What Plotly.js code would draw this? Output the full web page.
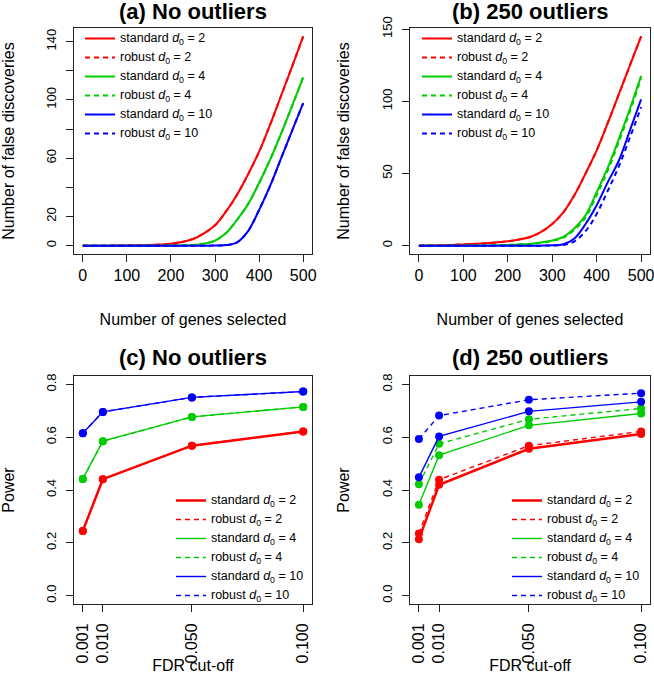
<!DOCTYPE html>
<html>
<head>
<meta charset="utf-8">
<script src="https://cdn.plot.ly/plotly-3.0.1.min.js"></script>
<style>
    html, body { margin: 0; padding: 0; background: #fff; }
    #plot-div { width: 654px; height: 674px; }
</style>
</head>
<body>
<div id="plot-div"></div>
<script>
// number of genes selected (top panels)
const genesX = [0, 50, 100, 150, 200, 225, 250, 275, 300, 325, 350, 375, 400, 425, 450, 475, 500];

// (a) no outliers - robust is the same as standard
const aStd2 = [0, 0, 0.2, 0.5, 1.4, 2.5, 4.6, 8.5, 14, 23.5, 35, 49, 64.5, 83, 103, 123, 143.5];
const aRob2 = [0, 0, 0.2, 0.5, 1.4, 2.5, 4.6, 8.5, 14, 23.5, 35, 49, 64.5, 83, 103, 123, 143.5];
const aStd4 = [0, 0, 0, 0, 0.1, 0.2, 0.5, 1.4, 3.5, 8.7, 17.8, 28.5, 43, 59, 77, 96, 115.5];
const aRob4 = [0, 0, 0, 0, 0.1, 0.2, 0.5, 1.4, 3.5, 8.7, 17.8, 28.5, 43, 59, 77, 96, 115.5];
const aStd10 = [0, 0, 0, 0, 0, 0, 0, 0, 0.1, 0.4, 2.3, 10, 24.5, 41, 60, 79, 97.8];
const aRob10 = [0, 0, 0, 0, 0, 0, 0, 0, 0.1, 0.4, 2.3, 10, 24.5, 41, 60, 79, 97.8];

// (b) 250 outliers
const bStd2 = [0, 0.3, 0.8, 1.6, 3, 4.2, 6, 9.5, 15, 23, 35, 50, 66, 85, 105, 125, 145];
const bRob2 = [0, 0.3, 0.8, 1.6, 3, 4.2, 6, 9.5, 15, 23, 35, 50, 66, 85, 105, 125, 145];
const bStd4 = [0, 0, 0, 0.1, 0.5, 0.8, 1.2, 2.2, 3.5, 6, 12, 21, 37, 54, 74, 95, 117.6];
const bRob4 = [0, 0, 0, 0.1, 0.5, 0.8, 1.2, 2, 3.2, 5.5, 11, 19.5, 35, 52, 72, 93, 116];
const bStd10 = [0, 0, 0, 0, 0, 0, 0, 0, 0.2, 1, 5, 15, 28, 44, 59, 80, 101.4];
const bRob10 = [0, 0, 0, 0, 0, 0, 0, 0, 0.1, 0.5, 3, 10, 22, 38, 55, 75, 96];

// FDR cut-offs (bottom panels)
const fdrX = [0.001, 0.01, 0.05, 0.1];
const fdrLabels = ["0.001", "0.010", "0.050", "0.100"];

// (c) no outliers
const cStd2 = [0.245, 0.441, 0.568, 0.622];
const cRob2 = [0.245, 0.441, 0.568, 0.622];
const cStd4 = [0.442, 0.585, 0.677, 0.715];
const cRob4 = [0.442, 0.585, 0.677, 0.715];
const cStd10 = [0.615, 0.696, 0.751, 0.773];
const cRob10 = [0.615, 0.696, 0.751, 0.773];

// (d) 250 outliers
const dStd2 = [0.213, 0.420, 0.556, 0.612];
const dRob2 = [0.235, 0.439, 0.568, 0.622];
const dStd4 = [0.344, 0.532, 0.645, 0.690];
const dRob4 = [0.422, 0.575, 0.668, 0.709];
const dStd10 = [0.448, 0.603, 0.698, 0.734];
const dRob10 = [0.593, 0.682, 0.742, 0.767];

// tick labels
const genesTicks = [0, 100, 200, 300, 400, 500];
const genesTickText = ["0", "100", "200", "300", "400", "500"];
const aYTicks = [0, 20, 40, 60, 80, 100, 120, 140];
const aYTickText = ["0", "20", "", "60", "", "100", "", "140"];
const bYTicks = [0, 50, 100, 150];
const bYTickText = ["0", "50", "100", "150"];
const powerTicks = [0, 0.2, 0.4, 0.6, 0.8];
const powerTickText = ["0.0", "0.2", "0.4", "0.6", "0.8"];

const seriesNames = [
    "standard <i>d</i><sub>0</sub> = 2",
    "robust <i>d</i><sub>0</sub> = 2",
    "standard <i>d</i><sub>0</sub> = 4",
    "robust <i>d</i><sub>0</sub> = 4",
    "standard <i>d</i><sub>0</sub> = 10",
    "robust <i>d</i><sub>0</sub> = 10",
];
const colors = ["#ff0000", "#ff0000", "#00cd00", "#00cd00", "#0000ff", "#0000ff"];
const dashes = ["solid", "5px,4px", "solid", "5px,4px", "solid", "5px,4px"];
const powerWidths = [2.5, 1.4, 1.4, 1.4, 1.4, 1.4];

const FONT = "Liberation Sans, Arial, Helvetica, sans-serif";

// legend rows in the original are packed tight, so the legend font is kept
// small (row height) and the label itself is drawn bigger
function legendName(s) {
    return '<span style="font-size:12.5px">' + s + "</span>";
}

function curveTraces(x, ys, xa, ya, legendId) {
    return ys.map((y, i) => ({
        x: x,
        y: y,
        xaxis: xa,
        yaxis: ya,
        type: "scatter",
        mode: "lines",
        name: legendName(seriesNames[i]),
        legend: legendId,
        line: { color: colors[i], width: 2, dash: dashes[i], shape: "spline", smoothing: 1 },
        hoverinfo: "skip",
    }));
}

function powerTraces(x, ys, xa, ya, legendId) {
    const out = [];
    ys.forEach((y, i) => {
        out.push({
            x: x,
            y: y,
            xaxis: xa,
            yaxis: ya,
            type: "scatter",
            mode: "lines",
            name: legendName(seriesNames[i]),
            legend: legendId,
            line: { color: colors[i], width: powerWidths[i], dash: dashes[i] },
            hoverinfo: "skip",
        });
        out.push({
            x: x,
            y: y,
            xaxis: xa,
            yaxis: ya,
            type: "scatter",
            mode: "markers",
            showlegend: false,
            marker: { color: colors[i], size: 8 },
            hoverinfo: "skip",
        });
    });
    return out;
}

const data = [].concat(
    curveTraces(genesX, [aStd2, aRob2, aStd4, aRob4, aStd10, aRob10], "x", "y", "legend"),
    curveTraces(genesX, [bStd2, bRob2, bStd4, bRob4, bStd10, bRob10], "x2", "y2", "legend2"),
    powerTraces(fdrX, [cStd2, cRob2, cStd4, cRob4, cStd10, cRob10], "x3", "y3", "legend3"),
    powerTraces(fdrX, [dStd2, dRob2, dStd4, dRob4, dStd10, dRob10], "x4", "y4", "legend4")
);

const W = 654;
const H = 674;

function axisBase(extra) {
    return Object.assign({
        showline: true,
        mirror: true,
        linecolor: "#222",
        linewidth: 1,
        ticks: "outside",
        ticklen: 7,
        tickcolor: "#222",
        showgrid: false,
        zeroline: false,
        fixedrange: true,
        tickmode: "array",
        ticklabeloverflow: "allow",
    }, extra);
}

function xAxis(domain, anchor, range, tickvals, ticktext, title, extra) {
    return axisBase(Object.assign({
        domain: domain,
        anchor: anchor,
        range: range,
        tickvals: tickvals,
        ticktext: ticktext,
        tickfont: { size: 16, color: "#000" },
        title: { text: title, font: { size: 16, color: "#000" }, standoff: 30 },
    }, extra || {}));
}

function yAxis(domain, anchor, range, tickvals, ticktext, title) {
    return axisBase({
        domain: domain,
        anchor: anchor,
        range: range,
        tickvals: tickvals,
        ticktext: ticktext,
        tickangle: -90,
        ticklabelstandoff: 5,
        tickfont: { size: 13, color: "#000" },
        title: { text: title, font: { size: 16, color: "#000" }, standoff: 26 },
    });
}

const leftX = [74 / W, 312 / W];
const rightX = [410 / W, 650 / W];
const topY = [1 - 254 / H, 1 - 28 / H];
const botY = [1 - 604 / H, 1 - 376 / H];

const fdrRange = [-0.00296, 0.10396];
const powerRange = [-0.032, 0.832];

function legendAt(px, py) {
    return {
        x: px / W,
        y: 1 - py / H,
        xanchor: "left",
        yanchor: "top",
        bgcolor: "rgba(0,0,0,0)",
        borderwidth: 0,
        tracegroupgap: 0,
        font: { size: 10, family: FONT, color: "#000" },
    };
}

function panelTitle(text, domain, py) {
    return {
        text: "<b>" + text + "</b>",
        xref: "paper",
        yref: "paper",
        x: (domain[0] + domain[1]) / 2,
        y: 1 - py / H,
        xanchor: "center",
        yanchor: "middle",
        showarrow: false,
        font: { size: 22, family: FONT, color: "#000" },
    };
}

const layout = {
    width: W,
    height: H,
    margin: { l: 0, r: 0, t: 0, b: 0 },
    paper_bgcolor: "#fff",
    plot_bgcolor: "#fff",
    font: { family: FONT, color: "#000" },
    showlegend: true,
    xaxis: xAxis(leftX, "y", [-20, 520], genesTicks, genesTickText, "Number of genes selected"),
    yaxis: yAxis(topY, "x", [-5.7, 149.3], aYTicks, aYTickText, "Number of false discoveries"),
    xaxis2: xAxis(rightX, "y2", [-20, 520], genesTicks, genesTickText, "Number of genes selected"),
    yaxis2: yAxis(topY, "x2", [-5.8, 150.8], bYTicks, bYTickText, "Number of false discoveries"),
    xaxis3: xAxis(leftX, "y3", fdrRange, fdrX, fdrLabels, "FDR cut-off", { tickangle: -90, ticklabelstandoff: 5 }),
    yaxis3: yAxis(botY, "x3", powerRange, powerTicks, powerTickText, "Power"),
    xaxis4: xAxis(rightX, "y4", fdrRange, fdrX, fdrLabels, "FDR cut-off", { tickangle: -90, ticklabelstandoff: 5 }),
    yaxis4: yAxis(botY, "x4", powerRange, powerTicks, powerTickText, "Power"),
    legend: legendAt(80, 24),
    legend2: legendAt(417, 24),
    legend3: legendAt(171, 486),
    legend4: legendAt(507, 486),
    annotations: [
        panelTitle("(a) No outliers", leftX, 12),
        panelTitle("(b) 250 outliers", rightX, 12),
        panelTitle("(c) No outliers", leftX, 357),
        panelTitle("(d) 250 outliers", rightX, 357),
    ],
};

Plotly.newPlot("plot-div", data, layout, { staticPlot: true, displayModeBar: false });
</script>
</body>
</html>
